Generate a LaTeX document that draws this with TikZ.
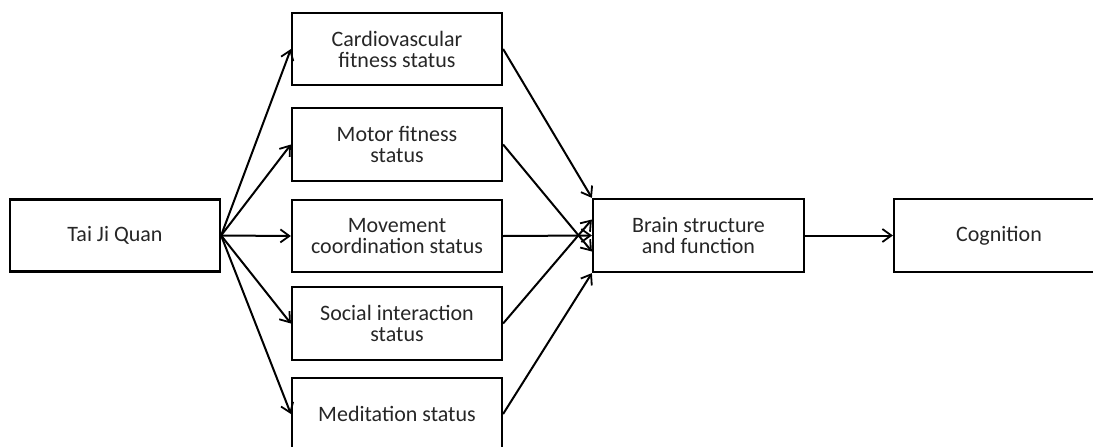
\documentclass[tikz,border=0pt]{standalone}
\usepackage{fontspec}
\setmainfont{Carlito}
\usetikzlibrary{arrows.meta}
\begin{document}
\begin{tikzpicture}[x=1pt,y=-1pt,
  box/.style={draw,line width=2.2pt,minimum width=210pt,minimum height=72pt,inner sep=0pt,
    align=center,font=\fontsize{22}{21}\selectfont,text=black!85},
  conn/.style={line width=2pt,-{Straight Barb[length=9pt,width=13pt,line width=1.8pt]}}]
\useasboundingbox (0,0) rectangle (1093,447);
\clip (0,0) rectangle (1093,447);
\node[box] (tai) at (115,235.5) {Tai Ji Quan};
\node[box] (cardio) at (397,49) {Cardiovascular\\fitness status};
\node[box,minimum height=73pt] (motor) at (397,144.5) {Motor fitness\\status};
\node[box] (move) at (397,236) {Movement\\coordination status};
\node[box,minimum height=73pt] (social) at (397,323.5) {Social interaction\\status};
\node[box] (medit) at (397,414) {Meditation status};
\node[box,minimum width=211pt,minimum height=73pt] (brain) at (698.5,235.5) {Brain structure\\and function};
\node[box,minimum height=73pt] (cog) at (999,235.5) {Cognition};
\foreach \t in {cardio,motor,move,social,medit}
  \draw[conn] (tai.east) -- (\t.west);
\draw[conn] (cardio.east) -- (brain.north west);
\draw[conn] (motor.east) -- ([yshift=-16pt]brain.west);
\draw[conn] (move.east) -- (brain.west);
\draw[conn] (social.east) -- ([yshift=16pt]brain.west);
\draw[conn] (medit.east) -- (brain.south west);
\draw[conn] (brain.east) -- (cog.west);
\end{tikzpicture}
\end{document}
